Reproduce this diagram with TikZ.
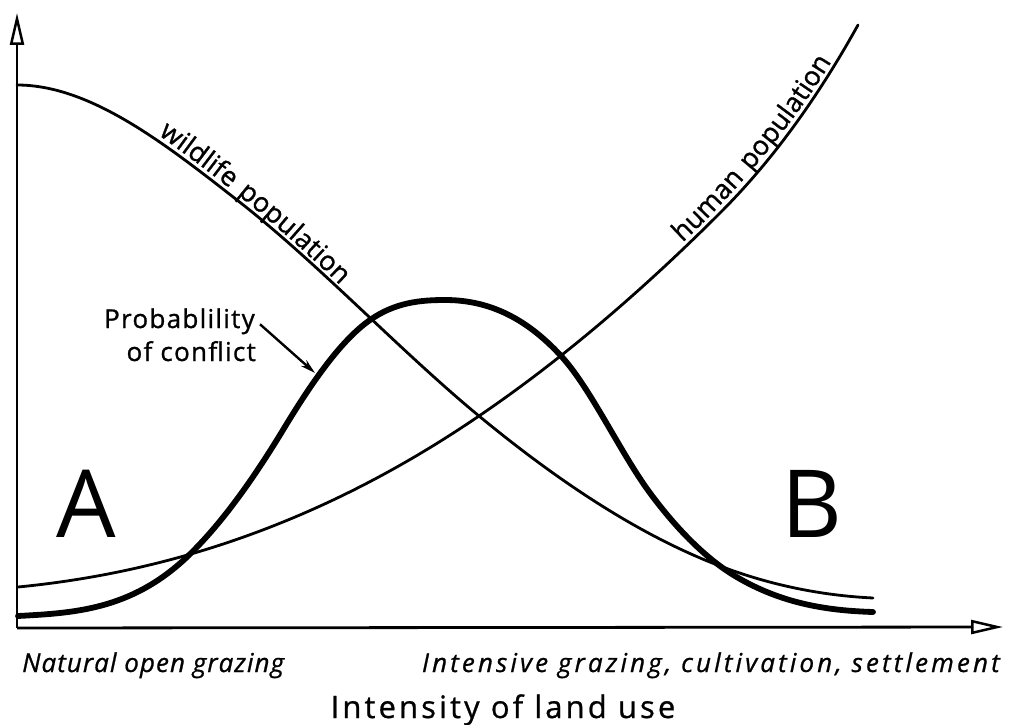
\documentclass[tikz,border=0pt]{standalone}
\usepackage{fontspec}
\setmainfont{Open Sans}
\newfontfamily\lblfont[LetterSpace=5,FakeBold=1]{Open Sans}
\newfontfamily\axisfont[FakeBold=0.8]{Open Sans}
\usetikzlibrary{arrows.meta,decorations.text}
\begin{document}
\begin{tikzpicture}[x=1pt,y=-1pt,
  axis/.style={line width=2.8pt,-{Triangle[open,length=32pt,width=14pt,line width=2.5pt]}},
  thincurve/.style={line width=2.8pt,line join=round,line cap=round},
  thickcurve/.style={line width=5.8pt,line join=round,line cap=round},
  pointer/.style={line width=2.4pt,-{Stealth[length=15pt,width=8pt]}},
  curvelabel/.style={decorate,decoration={text along path,raise=5pt,text align=center,
      text={|\lblfont\addfontfeature{LetterSpace=9}\fontsize{27}{32}\selectfont|#1}}},
  lbl/.style={inner sep=0pt,font=\lblfont\fontsize{26}{31}\selectfont},
  axislbl/.style={inner sep=0pt,font=\axisfont\itshape\fontsize{26}{31}\selectfont},
  bigletter/.style={inner sep=0pt,font=\fontsize{94}{110}\selectfont}]
\useasboundingbox (0,0) rectangle (1009,725);

% axes
\coordinate (origin) at (17,628);
\coordinate (ytop) at (17,13);
\coordinate (xend) at (1003,627);
\draw[axis] (origin) -- (ytop);
\draw[axis] (origin) -- (xend);

% wildlife population: falls from a high plateau to a low level
\draw[thincurve] (17,85) .. controls (90,85) and (164,143) .. (237,200)
  .. controls (318,263) and (398,349) .. (479,416)
  .. controls (559,482) and (640,535.6) .. (720,566)
  .. controls (771,585.4) and (822,595.5) .. (873,598);
\path[curvelabel={wildlife population}] (140,128) .. controls (210,177) and (280,232) .. (350,302);

% human population: rises ever faster
\draw[thincurve] (18,587) .. controls (172,572) and (325,521) .. (479,416)
  .. controls (559,361.6) and (640,293) .. (720,213)
  .. controls (766,167) and (812,107.8) .. (858,25);
\path[curvelabel={human population}] (665,265) .. controls (727,212) and (805,122) .. (850,40);

% probability of conflict: bell-shaped
\draw[thickcurve] (18,616) .. controls (74,613) and (131,610) .. (187,557)
  .. controls (219,526.6) and (251,482.8) .. (283,430)
  .. controls (312,382) and (341,340.3) .. (370,320)
  .. controls (395,302.5) and (420,300) .. (445,300)
  .. controls (484,300) and (523,314) .. (562,357)
  .. controls (591,389) and (621,453.8) .. (650,493)
  .. controls (678,530.8) and (707,559.2) .. (735,576)
  .. controls (781,603.6) and (827,610.6) .. (873,612);

\node[lbl,anchor=base east] (problabel) at (255,328) {Probablility};
\node[lbl,anchor=base east] (conflictlabel) at (256,361) {of conflict};
\coordinate (conflictpt) at (315,373);
\draw[pointer] ([xshift=5pt,yshift=-3pt]problabel.east) -- (conflictpt);

% regions
\node[bigletter,anchor=base] (markA) at (86,537) {A};
\node[bigletter,anchor=base] (markB) at (812,537) {B};

% axis texts
\node[axislbl,anchor=base west] (lowend) at (22,672) {\addfontfeature{LetterSpace=4}Natural open grazing};
\node[axislbl,anchor=base east] (highend) at (1000,672) {\addfontfeature{LetterSpace=12}Intensive grazing, cultivation, settlement};
\node[inner sep=0pt,font=\axisfont\fontsize{31}{37}\selectfont,anchor=base] (xtitle) at (503,718) {\addfontfeature{LetterSpace=10}Intensity of land use};
\end{tikzpicture}
\end{document}
